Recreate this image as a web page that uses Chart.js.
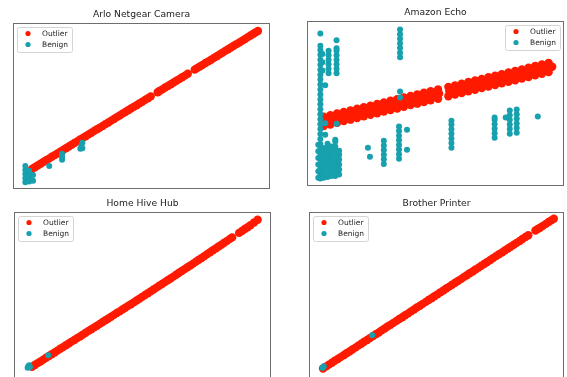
<!DOCTYPE html>
<html>
<head>
<meta charset="utf-8">
<script src="https://cdn.jsdelivr.net/npm/chart.js@4.4.1/dist/chart.umd.min.js"></script>
<style>
    html, body { margin: 0; padding: 0; background: #fff; overflow: hidden; }
    body { width: 567px; height: 377px; position: relative; }
    canvas { position: absolute; }
</style>
</head>
<body>
<canvas id="arloChart"></canvas>
<canvas id="echoChart"></canvas>
<canvas id="hiveChart"></canvas>
<canvas id="brotherChart"></canvas>
<script>
// ===== DATA (axes in 0-100 units) =====

const panelTitles = ['Arlo Netgear Camera', 'Amazon Echo', 'Home Hive Hub', 'Brother Printer'];
const seriesLabels = ['Outlier', 'Benign'];

const arloOutlier = [
    [7.4, 12.1], [8.5, 13.1], [9.6, 14.2], [10.7, 15.2], [11.8, 16.3], [12.9, 17.3], [14.0, 18.3],
    [15.1, 19.4], [16.2, 20.4], [17.3, 21.4], [18.4, 22.5], [19.5, 23.5], [20.6, 24.6], [21.7, 25.6],
    [22.8, 26.7], [23.9, 27.7], [25.0, 28.7], [26.1, 29.8], [27.2, 30.8], [28.3, 31.8], [29.4, 32.9],
    [30.5, 33.9], [31.6, 35.0], [32.7, 36.0], [33.8, 37.0], [34.9, 38.0], [36.0, 39.1], [37.1, 40.1],
    [38.2, 41.2], [39.3, 42.2], [40.4, 43.3], [41.5, 44.3], [42.6, 45.4], [43.7, 46.4], [44.8, 47.4],
    [45.9, 48.5], [47.0, 49.5], [48.1, 50.5], [49.2, 51.6], [50.3, 52.6], [51.4, 53.7], [52.5, 54.7],
    [53.6, 55.8],
    [56.3, 58.3], [57.0, 59.0], [58.1, 60.0], [59.2, 61.1], [60.3, 62.1], [61.4, 63.1], [62.5, 64.2],
    [63.6, 65.2], [64.7, 66.2], [65.8, 67.3], [66.9, 68.3], [68.0, 69.4],
    [70.7, 71.9], [71.6, 72.8], [72.7, 73.8], [73.8, 74.8], [74.9, 75.9], [76.0, 76.9], [77.1, 77.9],
    [78.2, 79.0], [79.3, 80.0], [80.4, 81.1], [81.5, 82.1], [82.6, 83.2], [83.7, 84.2], [84.8, 85.2],
    [85.9, 86.3], [87.0, 87.3], [88.1, 88.3], [89.2, 89.4], [90.3, 90.4], [91.4, 91.5], [92.4, 92.5],
    [93.4, 93.4], [94.3, 94.3], [95.3, 95.2]
];
const arloBenign = [
    [4.8, 4.0], [4.8, 6.5], [4.8, 9.0], [4.8, 11.5], [4.8, 13.9],
    [6.3, 4.5], [6.3, 7.0], [6.3, 9.5], [6.3, 11.0],
    [7.8, 5.0], [7.8, 8.5],
    [14.1, 13.9],
    [19.1, 17.6], [19.1, 19.4], [19.1, 21.2],
    [26.2, 24.2], [26.6, 26.0], [27.0, 27.9], [27.0, 24.5]
];

const echoOutlier = [
    // upper edge of the band
    [6.5, 42.0], [9.1, 42.9], [11.7, 43.9], [14.3, 44.9], [16.9, 45.8], [19.5, 46.8], [22.1, 47.8],
    [24.7, 48.7], [27.3, 49.7], [29.9, 50.7], [32.5, 51.7], [35.1, 52.6], [37.7, 53.6], [40.3, 54.6],
    [42.9, 55.5], [45.5, 56.5], [48.1, 57.5], [51.0, 58.5], [55.0, 60.0], [57.6, 61.0], [60.2, 62.0],
    [62.8, 63.0], [65.4, 63.9], [68.0, 64.9], [70.6, 65.9], [73.2, 66.8], [75.8, 67.8], [78.4, 68.8],
    [81.0, 69.7], [83.6, 70.7], [86.2, 71.7], [88.8, 72.7], [91.4, 73.6], [94.0, 74.6],
    // middle
    [6.2, 39.0], [7.8, 39.6], [10.4, 40.6], [13.0, 41.6], [15.6, 42.5], [18.2, 43.5], [20.8, 44.5],
    [23.4, 45.5], [26.0, 46.4], [28.6, 47.4], [31.2, 48.4], [33.8, 49.3], [36.4, 50.3], [39.0, 51.3],
    [41.6, 52.2], [44.2, 53.2], [46.8, 54.2], [49.4, 55.2], [51.4, 56.0], [55.4, 57.4], [58.0, 58.4],
    [60.6, 59.3], [63.2, 60.3], [65.8, 61.3], [68.4, 62.2], [71.0, 63.2], [73.6, 64.2], [76.2, 65.1],
    [78.8, 66.1], [81.4, 67.1], [84.0, 68.1], [86.6, 69.0], [89.2, 70.0], [91.8, 70.9], [94.4, 71.9],
    [95.4, 72.3],
    // lower edge
    [6.5, 36.4], [9.1, 37.3], [11.7, 38.3], [14.3, 39.3], [16.9, 40.2], [19.5, 41.2], [22.1, 42.2],
    [24.7, 43.1], [27.3, 44.1], [29.9, 45.1], [32.5, 46.1], [35.1, 47.0], [37.7, 48.0], [40.3, 49.0],
    [42.9, 49.9], [45.5, 50.9], [48.1, 51.9], [51.0, 52.9], [55.0, 54.4], [57.6, 55.4], [60.2, 56.4],
    [62.8, 57.4], [65.4, 58.3], [68.0, 59.3], [70.6, 60.3], [73.2, 61.2], [75.8, 62.2], [78.4, 63.2],
    [81.0, 64.1], [83.6, 65.1], [86.2, 66.1], [88.8, 67.1], [91.4, 68.0], [94.0, 69.0]
];
const echoBenign = [
    [5.2, 92.5],
    [5.2, 4.5], [5.2, 7.5], [5.2, 10.5], [5.2, 13.5], [5.2, 16.5], [5.2, 19.5], [5.2, 22.5],
    [5.2, 25.5], [5.2, 28.5], [5.2, 31.5], [5.2, 34.5], [5.2, 37.5], [5.2, 40.5], [5.2, 43.5],
    [5.2, 46.5], [5.2, 49.5], [5.2, 52.5], [5.2, 55.5], [5.2, 58.5], [5.2, 61.5], [5.2, 64.5],
    [5.2, 67.5], [5.2, 70.5], [5.2, 73.5], [5.2, 76.5], [5.2, 79.5], [5.2, 82.5], [5.2, 85.0],
    [4.4, 5.0], [4.4, 9.0], [4.4, 13.0], [4.4, 17.0], [4.4, 21.0], [4.4, 25.0],
    [6.0, 70.0], [6.0, 75.0], [6.0, 80.0],
    [8.4, 68.3], [8.4, 71.0], [8.4, 73.8], [8.4, 76.5], [8.4, 79.3], [8.4, 82.0],
    [11.5, 68.3], [11.5, 71.0], [11.5, 73.8], [11.5, 76.5], [11.5, 79.3], [11.5, 82.0], [11.5, 83.5],
    [11.5, 88.4], [7.1, 61.0],
    [36.2, 78.0], [36.2, 80.8], [36.2, 83.6], [36.2, 86.4], [36.2, 89.2], [36.2, 92.0], [36.2, 94.8],
    [36.2, 57.3], [36.2, 53.7],
    [7.1, 38.0], [11.5, 37.8], [7.1, 31.1],
    [35.8, 16.5], [35.8, 19.3], [35.8, 22.1], [35.8, 24.9], [35.8, 27.7], [35.8, 30.5], [35.8, 33.3],
    [35.8, 36.1],
    [38.9, 34.1], [38.9, 22.0],
    [23.7, 23.2], [24.5, 17.7],
    [29.9, 13.4], [29.9, 16.2], [29.9, 19.0], [29.9, 21.8], [29.9, 24.6], [29.9, 27.4],
    [56.2, 23.2], [56.2, 26.0], [56.2, 28.8], [56.2, 31.6], [56.2, 34.4], [56.2, 37.2], [56.2, 39.6],
    [73.0, 29.3], [73.0, 32.0], [73.0, 34.7], [73.0, 37.4], [73.0, 40.1], [73.0, 41.5],
    [78.9, 31.7], [78.9, 34.5], [78.9, 37.3], [78.9, 40.1], [78.9, 42.9], [78.9, 45.7], [77.3, 41.5],
    [81.6, 32.3], [81.6, 35.1], [81.6, 37.9], [81.6, 40.7], [81.6, 43.5], [81.6, 46.3],
    [89.8, 42.1],
    // dense block at the bottom left
    [6.5, 5.0], [6.5, 8.0], [6.5, 11.0], [6.5, 14.0], [6.5, 17.0], [6.5, 20.0], [6.5, 23.0],
    [8.0, 5.5], [8.0, 8.5], [8.0, 11.5], [8.0, 14.5], [8.0, 17.5], [8.0, 20.5], [8.0, 23.5], [8.0, 25.6],
    [9.5, 6.0], [9.5, 9.0], [9.5, 12.0], [9.5, 15.0], [9.5, 18.0], [9.5, 21.0], [9.5, 24.0],
    [11.0, 6.0], [11.0, 9.0], [11.0, 12.0], [11.0, 15.0], [11.0, 18.0], [11.0, 21.0], [11.0, 24.0],
    [11.0, 27.0], [11.0, 28.0],
    [12.5, 7.0], [12.5, 10.0], [12.5, 13.0], [12.5, 16.0], [12.5, 19.0], [12.5, 21.3]
];

const hiveOutlier = [
    [7.0, 7.3], [8.1, 8.4], [9.2, 9.5], [10.3, 10.5], [11.4, 11.6], [12.5, 12.7], [13.6, 13.8],
    [14.7, 14.8], [15.8, 15.9], [16.9, 17.0], [18.0, 18.1], [19.1, 19.1], [20.2, 20.2], [21.3, 21.3],
    [22.4, 22.4], [23.5, 23.4], [24.6, 24.5], [25.7, 25.5], [26.8, 26.6], [27.9, 27.7], [29.0, 28.8],
    [30.1, 29.8], [31.2, 30.9], [32.3, 31.9], [33.4, 33.0], [34.5, 34.1], [35.6, 35.2], [36.7, 36.2],
    [37.8, 37.3], [38.9, 38.4], [40.0, 39.5], [41.1, 40.5], [42.2, 41.6], [43.3, 42.7], [44.4, 43.8],
    [45.5, 44.8], [46.6, 45.9], [47.7, 47.0], [48.8, 48.1], [49.9, 49.2], [51.0, 50.3], [52.1, 51.4],
    [53.2, 52.5], [54.3, 53.6], [55.4, 54.7], [56.5, 55.8], [57.6, 56.9], [58.7, 58.0], [59.8, 59.1],
    [60.9, 60.2], [62.0, 61.3], [63.1, 62.4], [64.2, 63.6], [65.3, 64.7], [66.4, 65.8], [67.5, 66.9],
    [68.6, 68.0], [69.7, 69.1], [70.8, 70.3], [71.9, 71.4], [73.0, 72.5], [74.1, 73.6], [75.2, 74.8],
    [76.3, 75.9], [77.4, 77.1], [78.5, 78.2], [79.6, 79.3], [80.7, 80.4], [81.8, 81.6], [82.9, 82.7],
    [84.0, 83.9], [84.9, 84.8],
    [87.6, 87.5], [88.7, 88.6], [89.8, 89.8], [90.9, 90.9], [92.0, 92.1], [93.4, 93.7], [94.8, 95.4]
];
const hiveBenign = [
    [5.3, 6.8], [5.9, 8.2], [5.5, 7.5], [6.2, 7.0], [13.3, 14.2]
];

const brotherOutlier = [
    [5.5, 6.3], [6.6, 7.4], [7.8, 8.6], [9.0, 9.7], [10.1, 10.9], [11.3, 12.0], [12.4, 13.1],
    [13.6, 14.2], [14.7, 15.4], [15.9, 16.5], [17.0, 17.7], [18.2, 18.8], [19.3, 20.0], [20.5, 21.1],
    [21.6, 22.3], [22.8, 23.4], [23.9, 24.5], [25.1, 25.7], [26.2, 26.8], [27.4, 27.9], [28.5, 29.1],
    [29.7, 30.2], [30.8, 31.4], [32.0, 32.5], [33.1, 33.6], [34.3, 34.8], [35.4, 35.9], [36.6, 37.0],
    [37.7, 38.2], [38.9, 39.3], [40.0, 40.5], [41.2, 41.6], [42.3, 42.8], [43.5, 43.9], [44.6, 45.0],
    [45.8, 46.2], [46.9, 47.3], [48.1, 48.4], [49.2, 49.6], [50.4, 50.7], [51.5, 51.9], [52.7, 53.0],
    [53.8, 54.2], [55.0, 55.3], [56.1, 56.4], [57.3, 57.6], [58.4, 58.7], [59.6, 59.8], [60.7, 61.0],
    [61.9, 62.1], [63.0, 63.3], [64.2, 64.4], [65.3, 65.6], [66.5, 66.7], [67.6, 67.8], [68.8, 69.0],
    [69.9, 70.1], [71.1, 71.3], [72.2, 72.4], [73.4, 73.6], [74.5, 74.7], [75.7, 75.8], [76.8, 77.0],
    [78.0, 78.1], [79.1, 79.2], [80.3, 80.4], [81.4, 81.5], [82.6, 82.6], [83.7, 83.8], [84.9, 85.0],
    [86.0, 86.1],
    [88.8, 88.9], [89.7, 89.8], [90.6, 90.6], [91.7, 91.7], [92.9, 92.9], [94.0, 94.0], [95.0, 95.0],
    [96.0, 96.0]
];
const brotherBenign = [
    [5.3, 6.6], [5.8, 7.6], [5.6, 7.0], [24.8, 26.2]
];

// ===== STYLE / LAYOUT =====

const COLORS = {
    outlier: '#ff1a00',
    benign: '#17a0ae',
    frame: '#6e6e6e',
    text: '#222222'
};

const panels = [
    { id: 'arloChart', title: panelTitles[0], outlier: arloOutlier, benign: arloBenign,
      left: 13, top: 0, width: 257, height: 189, titlePad: [10.4, 3.4], corner: 'left' },
    { id: 'echoChart', title: panelTitles[1], outlier: echoOutlier, benign: echoBenign,
      left: 307, top: 0, width: 257, height: 186, titlePad: [8.4, 3.4], corner: 'right' },
    { id: 'hiveChart', title: panelTitles[2], outlier: hiveOutlier, benign: hiveBenign,
      left: 14, top: 190, width: 257, height: 189, titlePad: [9.4, 3.4], corner: 'left' },
    { id: 'brotherChart', title: panelTitles[3], outlier: brotherOutlier, benign: brotherBenign,
      left: 309, top: 190, width: 255, height: 189, titlePad: [9.4, 3.4], corner: 'left' }
];

// frame around the plot area + matplotlib-like legend box inside it
const frameLegendPlugin = {
    id: 'frameLegend',
    afterDraw(chart, args, opts) {
        const { ctx, chartArea: a } = chart;
        ctx.save();
        ctx.strokeStyle = COLORS.frame;
        ctx.lineWidth = 1;
        ctx.strokeRect(a.left + 0.5, a.top + 0.5, a.right - a.left - 1, a.bottom - a.top - 1);

        const w = 55, h = 25, r = 2;
        const x0 = opts.corner === 'right' ? a.right - 4 - w : a.left + 4;
        const y0 = a.top + 4;
        const bx = x0 + 0.5, by = y0 + 0.5;
        ctx.beginPath();
        ctx.moveTo(bx + r, by);
        ctx.lineTo(bx + w - r, by);
        ctx.arcTo(bx + w, by, bx + w, by + r, r);
        ctx.lineTo(bx + w, by + h - r);
        ctx.arcTo(bx + w, by + h, bx + w - r, by + h, r);
        ctx.lineTo(bx + r, by + h);
        ctx.arcTo(bx, by + h, bx, by + h - r, r);
        ctx.lineTo(bx, by + r);
        ctx.arcTo(bx, by, bx + r, by, r);
        ctx.closePath();
        ctx.fillStyle = 'rgba(255,255,255,0.8)';
        ctx.fill();
        ctx.strokeStyle = '#d4d4d4';
        ctx.stroke();

        ctx.font = '7.5px "DejaVu Sans"';
        ctx.textBaseline = 'middle';
        ctx.textAlign = 'left';
        chart.data.datasets.forEach((ds, i) => {
            const y = y0 + 6.5 + i * 11;
            ctx.beginPath();
            ctx.arc(x0 + 11, y, 2.6, 0, Math.PI * 2);
            ctx.fillStyle = ds.backgroundColor;
            ctx.fill();
            ctx.fillStyle = COLORS.text;
            ctx.fillText(ds.label, x0 + 25, y + 0.5);
        });
        ctx.restore();
    }
};

function toPoints(pairs) {
    return pairs.map(([x, y]) => ({ x, y }));
}

function buildPanel(p) {
    const canvas = document.getElementById(p.id);
    canvas.width = p.width;
    canvas.height = p.height;
    canvas.style.left = p.left + 'px';
    canvas.style.top = p.top + 'px';

    return new Chart(canvas.getContext('2d'), {
        type: 'scatter',
        data: {
            datasets: [{
                label: seriesLabels[0],
                data: toPoints(p.outlier),
                backgroundColor: COLORS.outlier,
                borderWidth: 0,
                pointRadius: 4.2,
                order: 2
            }, {
                label: seriesLabels[1],
                data: toPoints(p.benign),
                backgroundColor: COLORS.benign,
                borderWidth: 0,
                pointRadius: 3,
                order: 1
            }]
        },
        options: {
            responsive: false,
            animation: false,
            devicePixelRatio: 1,
            events: [],
            layout: { padding: 0, autoPadding: false },
            scales: {
                x: { type: 'linear', display: false, min: 0, max: 100 },
                y: { type: 'linear', display: false, min: 0, max: 100 }
            },
            plugins: {
                legend: { display: false },
                tooltip: { enabled: false },
                title: {
                    display: true,
                    text: p.title,
                    color: COLORS.text,
                    font: { family: 'DejaVu Sans', size: 9.2, weight: 'normal', lineHeight: 1 },
                    padding: { top: p.titlePad[0], bottom: p.titlePad[1] }
                },
                frameLegend: { corner: p.corner }
            }
        },
        plugins: [frameLegendPlugin]
    });
}

panels.forEach(buildPanel);
</script>
</body>
</html>
